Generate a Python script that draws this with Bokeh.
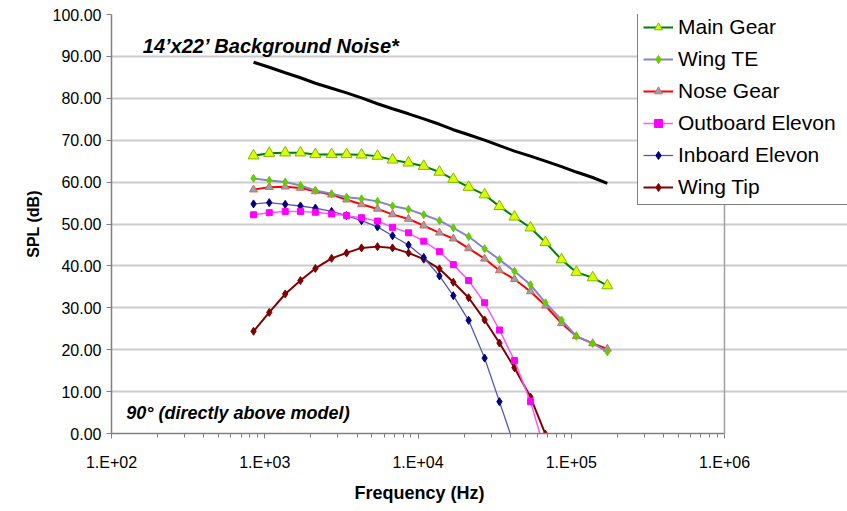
from bokeh.plotting import figure
from bokeh.models import (Legend, LegendItem, Label, FixedTicker, CustomJSTickFormatter,
                          PrintfTickFormatter, Range1d, Span, Title)
from bokeh.embed import file_html
from bokeh.resources import INLINE

# band centre frequencies (Hz)
freq = [845, 1070, 1360, 1710, 2140, 2730, 3420, 4280, 5440, 6820, 8670, 10900,
        13800, 17000, 21400, 27200, 34000, 42600, 54200, 67900, 86400, 108000,
        138000, 172000]

background = [88.6, 87.4, 86.1, 84.9, 83.6, 82.4, 81.3, 80.1, 78.7, 77.5, 76.3, 75.1,
              73.8, 72.5, 71.3, 70.0, 68.7, 67.4, 66.2, 65.0, 63.7, 62.4, 61.1, 59.7]
main_gear = [66.3, 66.9, 67.0, 67.0, 66.6, 66.6, 66.6, 66.5, 66.2, 65.3, 64.6, 63.8,
             62.4, 60.7, 58.8, 57.0, 54.2, 51.7, 49.1, 45.6, 41.5, 38.5, 37.2, 35.3]
wing_te = [60.9, 60.4, 60.0, 59.2, 58.0, 57.2, 56.4, 56.0, 55.4, 54.3, 53.5, 52.2,
           50.8, 49.1, 47.0, 44.1, 41.5, 38.7, 35.5, 31.2, 27.1, 23.2, 21.5, 19.5]
nose_gear = [58.2, 58.8, 58.9, 58.6, 57.8, 57.0, 55.8, 54.7, 53.6, 52.3, 51.2, 49.6,
             47.9, 46.5, 44.2, 41.7, 38.9, 36.8, 33.9, 30.5, 26.3, 23.2, 21.5, 20.2]
outboard_elevon = [52.2, 52.7, 53.0, 53.0, 52.8, 52.4, 52.0, 51.5, 50.7, 49.2, 47.9, 45.9,
                   43.4, 40.3, 36.5, 31.2, 24.7, 17.4, 7.6, -4.6]
inboard_elevon = [54.8, 55.1, 54.7, 54.3, 53.8, 53.0, 52.0, 50.8, 49.3, 47.2, 45.0, 42.0,
                  37.6, 32.9, 27.0, 18.0, 7.6, -3.0]
wing_tip = [24.4, 28.9, 33.3, 36.5, 39.4, 41.8, 43.1, 44.3, 44.6, 44.3, 43.1, 41.6,
            39.3, 36.1, 32.4, 27.1, 21.6, 15.7, 8.7, -0.2]

x_ticks = [1e2, 1e3, 1e4, 1e5, 1e6]
y_ticks = [0, 10, 20, 30, 40, 50, 60, 70, 80, 90, 100]

FONT = "Liberation Sans"

# frame spans 111..847 px; axis 1e2..1e6 occupies 111..724
x_end = 10 ** (2 + 736 / 153.25)

p = figure(width=847, height=511, x_axis_type="log", output_backend="svg",
           toolbar_location=None, x_range=Range1d(1e2, x_end), y_range=Range1d(0, 100),
           min_border_left=111, min_border_right=0, min_border_top=14, min_border_bottom=78)
p.frame_width = 736
p.frame_height = 419

p.background_fill_color = "white"
p.border_fill_color = "white"
p.outline_line_color = None

p.xgrid.visible = False
p.ygrid.grid_line_color = "#cccccc"
p.ygrid.grid_line_width = 2
p.ygrid.bounds = (1e2, 1e6)

minor = [m * 10 ** d for d in range(2, 6) for m in range(2, 10)]
p.xaxis.ticker = FixedTicker(ticks=x_ticks, minor_ticks=minor)
p.yaxis.ticker = FixedTicker(ticks=y_ticks)
p.xaxis.bounds = (1e2, 1e6)
p.xaxis.formatter = CustomJSTickFormatter(code="""
    const e = Math.round(Math.log10(tick));
    return "1.E+" + String(e).padStart(2, "0");
""")
p.yaxis.formatter = PrintfTickFormatter(format="%.2f")

for ax in (p.xaxis, p.yaxis):
    ax.axis_line_color = "#808080"
    ax.axis_line_width = 1.5
    ax.major_tick_line_color = "#808080"
    ax.minor_tick_line_color = "#808080"
    ax.major_tick_in = 0
    ax.major_tick_out = 5
    ax.minor_tick_in = 0
    ax.minor_tick_out = 4
    ax.major_label_text_font = FONT
    ax.major_label_text_font_size = "16px"
    ax.major_label_text_color = "#000000"
    ax.axis_label_text_font = FONT
    ax.axis_label_text_font_size = "16px"
    ax.axis_label_text_font_style = "bold"
    ax.axis_label_text_color = "#000000"

p.yaxis.minor_tick_out = 0
p.xaxis.major_label_standoff = 15
p.yaxis.major_label_standoff = 5
p.yaxis.axis_label = "SPL (dB)"
p.yaxis.axis_label_standoff = 8

# x-axis title, centred under the 1e2..1e6 span of the axis
p.add_layout(Title(text="Frequency (Hz)", align="left", offset=243, standoff=15,
                   text_font=FONT, text_font_size="18px", text_font_style="bold",
                   text_color="#000000"), "below")

# right border of the plot area at 1e6
p.add_layout(Span(location=1e6, dimension="height", line_color="#a0a0a0", line_width=1.5))

# background noise
p.line(freq, background, line_color="black", line_width=3)

def series(y, line_color, lw, marker, size, fill, edge):
    xs = freq[:len(y)]
    r1 = p.line(xs, y, line_color=line_color, line_width=lw)
    r2 = p.scatter(xs, y, marker=marker, size=size, fill_color=fill, line_color=edge, line_width=1)
    return [r1, r2]

r_wt = series(wing_tip, "#800000", 2, "diamond", 8, "#800000", "#800000")
r_ib = series(inboard_elevon, "#5555b5", 1.3, "diamond", 8, "#000080", "#000080")
r_ob = series(outboard_elevon, "#ff55ff", 1.5, "square", 6, "#ff00ff", "#ff00ff")
r_ng = series(nose_gear, "#ff0000", 2, "triangle", 8, "#88aaaa", "#e06060")
r_te = series(wing_te, "#8585c8", 2, "diamond", 8, "#66cc00", "#66cc00")
r_mg = series(main_gear, "#008000", 2, "triangle", 11, "#ddff00", "#77bb00")

legend = Legend(items=[
    LegendItem(label="Main Gear", renderers=r_mg),
    LegendItem(label="Wing TE", renderers=r_te),
    LegendItem(label="Nose Gear", renderers=r_ng),
    LegendItem(label="Outboard Elevon", renderers=r_ob),
    LegendItem(label="Inboard Elevon", renderers=r_ib),
    LegendItem(label="Wing Tip", renderers=r_wt),
], location=(526, 228))
legend.label_text_font = FONT
legend.label_text_font_size = "21px"
legend.label_text_color = "#000000"
legend.glyph_width = 30
legend.glyph_height = 20
legend.label_height = 20
legend.label_standoff = 5
legend.spacing = 8
legend.padding = 5
legend.margin = 0
legend.border_line_color = "#000000"
legend.border_line_width = 1.5
legend.background_fill_alpha = 1
legend.label_width = 185
p.add_layout(legend, "center")

p.add_layout(Label(x=160, y=92.6, text="14\u2019x22\u2019 Background Noise*",
                   text_font=FONT, text_font_size="20px", text_font_style="bold italic",
                   text_baseline="middle", text_color="#000000"))
p.add_layout(Label(x=125, y=5.0, text="90\u00b0 (directly above model)",
                   text_font=FONT, text_font_size="18px", text_font_style="bold italic",
                   text_baseline="middle", text_color="#000000"))

open("out.html", "w").write(file_html(p, INLINE))
